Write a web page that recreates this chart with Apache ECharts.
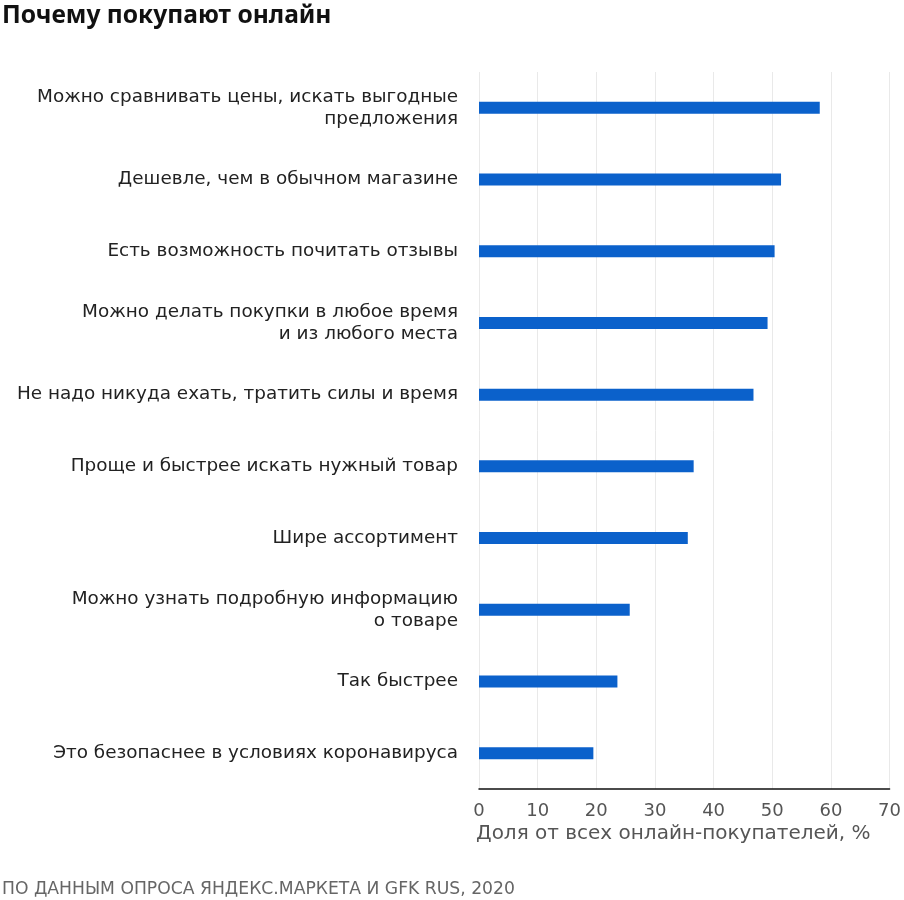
<!DOCTYPE html>
<html>
<head>
<meta charset="utf-8">
<script src="https://cdn.jsdelivr.net/npm/echarts@6/dist/echarts.min.js"></script>
<style>html,body{margin:0;padding:0;background:#fff}#c{width:904px;height:900px}</style>
</head>
<body>
<div id="c"></div>
<script>
const categories = [
  "Можно сравнивать цены, искать выгодные\nпредложения",
  "Дешевле, чем в обычном магазине",
  "Есть возможность почитать отзывы",
  "Можно делать покупки в любое время\nи из любого места",
  "Не надо никуда ехать, тратить силы и время",
  "Проще и быстрее искать нужный товар",
  "Шире ассортимент",
  "Можно узнать подробную информацию\nо товаре",
  "Так быстрее",
  "Это безопаснее в условиях коронавируса"
];
const values = [58.1, 51.5, 50.4, 49.2, 46.8, 36.6, 35.6, 25.7, 23.6, 19.5];
const xTicks = [0, 10, 20, 30, 40, 50, 60, 70];
const titleText = "Почему покупают онлайн";
const axisName = "Доля от всех онлайн-покупателей, %";
const sourceText = "ПО ДАННЫМ ОПРОСА ЯНДЕКС.МАРКЕТА И GFK RUS, 2020";

const chart = echarts.init(document.getElementById('c'));
chart.setOption({
  animation: false,
  title: [
    {text: titleText, left: -3, top: -2, textStyle: {fontFamily: 'Noto Sans', fontWeight: 'bold', fontSize: 24.6, color: '#111'}},
    {text: axisName, left: 471, top: 819, textStyle: {fontFamily: 'DejaVu Sans', fontWeight: 'normal', fontSize: 20, color: '#555'}},
    {text: sourceText, left: -3, top: 876, textStyle: {fontFamily: 'DejaVu Sans', fontWeight: 'normal', fontSize: 17.2, color: '#666'}}
  ],
  grid: {left: 479, right: 12, top: 72, bottom: 111, containLabel: false},
  xAxis: {
    type: 'value', min: xTicks[0], max: xTicks[xTicks.length - 1], interval: 10,
    axisLine: {show: true, lineStyle: {color: '#111', width: 1.5}},
    axisTick: {show: false},
    splitLine: {show: true, lineStyle: {color: '#e9e9e9', width: 1}},
    axisLabel: {color: '#555', fontSize: 18, fontFamily: 'DejaVu Sans', margin: 13}
  },
  yAxis: {
    type: 'category', data: categories, inverse: true,
    axisLine: {show: false}, axisTick: {show: false},
    axisLabel: {color: '#222', fontSize: 18.4, fontFamily: 'DejaVu Sans', margin: 21, align: 'right', lineHeight: 22}
  },
  series: [{
    type: 'bar', data: values, barWidth: 12,
    itemStyle: {color: '#0b61cb'}
  }]
});
</script>
</body>
</html>
